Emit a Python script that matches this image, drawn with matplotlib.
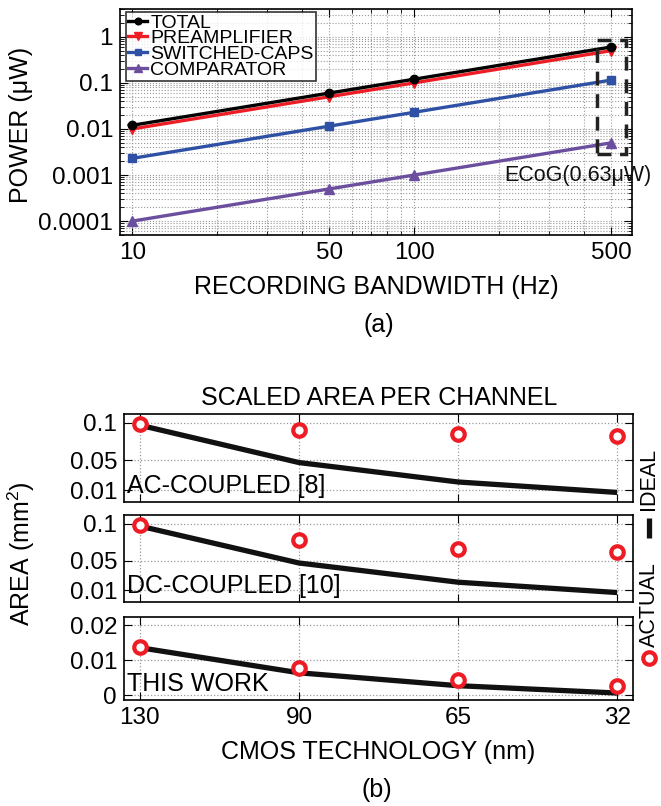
import matplotlib
matplotlib.use("Agg")
import matplotlib.pyplot as plt
from matplotlib.patches import Rectangle
from matplotlib.lines import Line2D
from matplotlib.ticker import FixedLocator, NullFormatter, LogLocator

plt.rcParams['font.family'] = ['Liberation Sans', 'DejaVu Sans']
plt.rcParams['mathtext.fontset'] = 'custom'
plt.rcParams['mathtext.rm'] = 'Liberation Sans'
plt.rcParams['mathtext.default'] = 'regular'

# ---------------- data (a) ----------------
bandwidth = [10, 50, 100, 500]
total = [0.012, 0.06, 0.12, 0.6]
preamp = [0.01, 0.05, 0.1, 0.5]
switched_caps = [0.0023, 0.0115, 0.023, 0.115]
comparator = [0.0001, 0.0005, 0.001, 0.005]
power_ticks = [0.0001, 0.001, 0.01, 0.1, 1]
power_ticklabels = ['0.0001', '0.001', '0.01', '0.1', '1']
bw_ticklabels = ['10', '50', '100', '500']

# ---------------- data (b) ----------------
tech = ['130', '90', '65', '32']
ac_actual = [0.098, 0.091, 0.085, 0.083]
ac_ideal = [0.097, 0.047, 0.021, 0.007]
dc_actual = [0.098, 0.0775, 0.066, 0.062]
dc_ideal = [0.097, 0.047, 0.021, 0.007]
tw_actual = [0.0139, 0.0079, 0.0043, 0.0027]
tw_ideal = [0.0136, 0.0064, 0.0027, 0.0006]
ac_dc_ticks = [0.01, 0.05, 0.1]
tw_ticks = [0, 0.01, 0.02]

W, H = 661, 806
fig = plt.figure(figsize=(W / 100, H / 100), dpi=100)

RED = '#ee1c24'
BLUE = '#2f51a5'
PURPLE = '#6b4e9e'
GRIDC = '#9a9a9a'
FS = 17.5

# ---------------- panel (a) ----------------
ax = fig.add_axes([120 / W, 1 - 235 / H, (632 - 120) / W, (235 - 9) / H])
ax.set_xscale('log')
ax.set_yscale('log')
ax.plot(bandwidth, total, color='black', lw=2.4, marker='o', ms=6, label='TOTAL', zorder=5)
ax.plot(bandwidth, preamp, color=RED, lw=2.4, marker='v', ms=7, label='PREAMPLIFIER', zorder=4)
ax.plot(bandwidth, switched_caps, color=BLUE, lw=2.4, marker='s', ms=5.5, label='SWITCHED-CAPS', zorder=4)
ax.plot(bandwidth, comparator, color=PURPLE, lw=2.4, marker='^', ms=7, label='COMPARATOR', zorder=4)
ax.set_xlim(9.05, 592)
ax.set_ylim(5e-5, 4.0)
ax.xaxis.set_major_locator(FixedLocator(bandwidth))
ax.set_xticklabels(bw_ticklabels)
ax.xaxis.set_minor_locator(LogLocator(base=10, subs=[1, 2, 3, 4, 5, 6, 7, 8, 9], numticks=20))
ax.xaxis.set_minor_formatter(NullFormatter())
ax.yaxis.set_major_locator(FixedLocator(power_ticks))
ax.set_yticklabels(power_ticklabels)
ax.yaxis.set_minor_locator(LogLocator(base=10, subs=[2, 3, 4, 5, 6, 7, 8, 9], numticks=20))
ax.yaxis.set_minor_formatter(NullFormatter())
ax.grid(True, which='both', ls=':', color=GRIDC, lw=0.8)
ax.tick_params(which='both', direction='in', top=True, right=True, labelsize=FS, pad=5)
ax.tick_params(which='major', length=6)
ax.tick_params(which='minor', length=3)
for s in ax.spines.values():
    s.set_linewidth(1.2)
ax.set_xlabel('RECORDING BANDWIDTH (Hz)', fontsize=18, labelpad=8)
fig.text(21 / W, 1 - 125 / H, 'POWER (μW)', fontsize=18, rotation=90, ha='center', va='center')

leg = ax.legend(loc='upper left', bbox_to_anchor=(126 / W, 1 - 12 / H), bbox_transform=fig.transFigure,
                fontsize=14, frameon=True, fancybox=False, borderpad=0.1, labelspacing=-0.1,
                handlelength=1.0, handletextpad=0.15, borderaxespad=0, markerscale=0.8)
leg.get_frame().set_edgecolor('black')
leg.get_frame().set_linewidth(1.2)
leg.set_zorder(10)

# ECoG box and label
ax.add_patch(Rectangle((446, 0.0029), 565 - 446, 0.86 - 0.0029, fill=False, ls=(0, (4, 2.5)),
                       lw=2.5, edgecolor='#222222', zorder=6, clip_on=False))
fig.text(504 / W, 1 - 175 / H, 'ECoG(0.63μW)', fontsize=15.5, ha='left', va='center', color='#111111')
fig.text(379 / W, 1 - 325 / H, '(a)', fontsize=18, ha='center', va='center')

# ---------------- panel (b) ----------------
xpos = list(range(len(tech)))
panels = [
    (414, 502, ac_actual, ac_ideal, ac_dc_ticks, ['0.01', '0.05', '0.1'], (-0.0058, 0.112), 'AC-COUPLED [8]'),
    (515, 602, dc_actual, dc_ideal, ac_dc_ticks, ['0.01', '0.05', '0.1'], (-0.0058, 0.112), 'DC-COUPLED [10]'),
    (617, 700, tw_actual, tw_ideal, tw_ticks, ['0', '0.01', '0.02'], (-0.0014, 0.0224), 'THIS WORK'),
]
axes_b = []
for i, (top, bot, act, ide, yt, ytl, yl, lab) in enumerate(panels):
    a = fig.add_axes([124 / W, 1 - bot / H, (633 - 124) / W, (bot - top) / H])
    a.plot(xpos, ide, color='#111111', lw=3.8, zorder=3, solid_capstyle='butt')
    a.plot(xpos, act, ls='none', marker='o', ms=9, mfc='white', mec=RED, mew=3.0, zorder=4)
    a.set_xlim(-0.1, 3.1)
    a.set_ylim(*yl)
    a.set_yticks(yt)
    a.set_yticklabels(ytl)
    a.set_xticks(xpos)
    if i == 2:
        a.set_xticklabels(tech)
    else:
        a.set_xticklabels([])
    a.grid(True, ls=':', color=GRIDC, lw=0.9)
    a.tick_params(direction='in', top=True, right=True, labelsize=FS, length=6, pad=5)
    for s in a.spines.values():
        s.set_linewidth(1.2)
    a.text(0.005, 0.05, lab, transform=a.transAxes, fontsize=18, ha='left', va='bottom', zorder=6)
    axes_b.append(a)

axes_b[2].set_xlabel('CMOS TECHNOLOGY (nm)', fontsize=18, labelpad=8)
fig.text(21 / W, 1 - 554 / H, 'AREA (mm$^{2}$)', fontsize=18, rotation=90, ha='center', va='center')
fig.text(379 / W, 1 - 398 / H, 'SCALED AREA PER CHANNEL', fontsize=18, ha='center', va='center')
fig.text(377 / W, 1 - 790 / H, '(b)', fontsize=18, ha='center', va='center')

# rotated legend on the right
fig.text(649 / W, 1 - 479 / H, 'IDEAL', fontsize=15.5, rotation=90, ha='center', va='center')
fig.text(649 / W, 1 - 605 / H, 'ACTUAL', fontsize=15.5, rotation=90, ha='center', va='center')
fig.add_artist(Line2D([649 / W, 649 / W], [1 - 518 / H, 1 - 538 / H], color='#111111', lw=3.8,
                      transform=fig.transFigure, solid_capstyle='butt'))
fig.add_artist(Line2D([649 / W], [1 - 658 / H], ls='none', marker='o', ms=9, mfc='white', mec=RED, mew=3.0,
                      transform=fig.transFigure))

fig.savefig('out.png', dpi=100)
